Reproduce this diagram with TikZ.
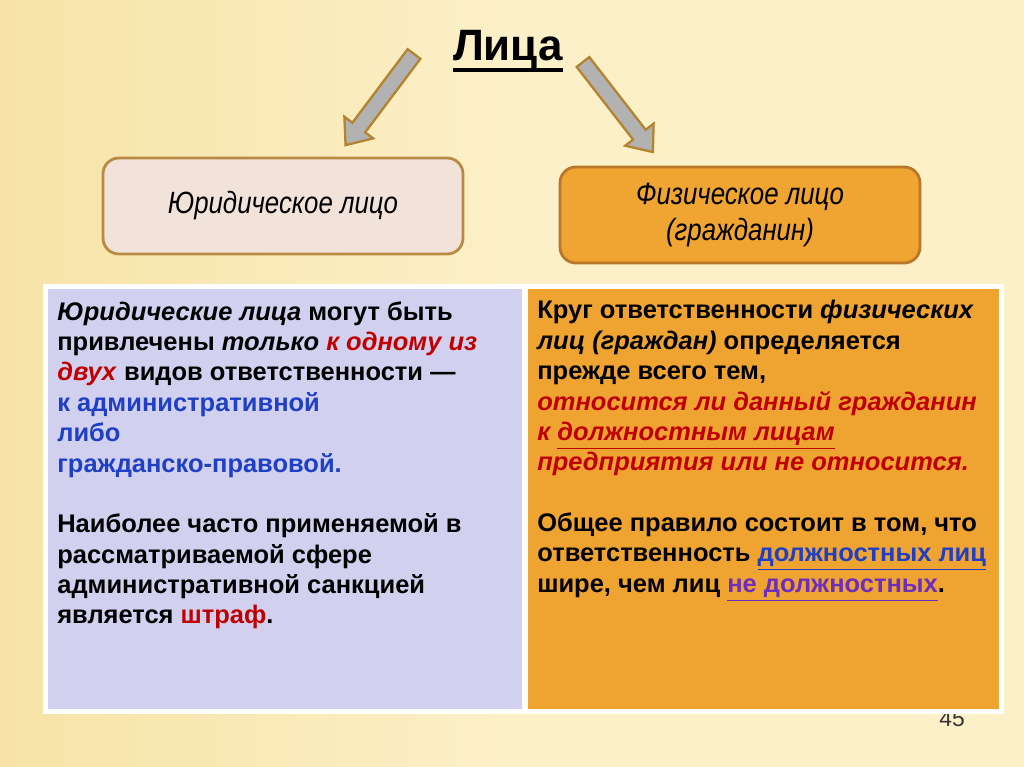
\documentclass[tikz,border=0pt]{standalone}
\usepackage{fontspec}
\setmainfont{Liberation Sans}
\newfontfamily\narrowfont[FakeStretch=0.84]{Liberation Sans}
\usepackage{xcolor}
\usepackage{tikz}
\usetikzlibrary{positioning,calc}

\definecolor{slidebg}{HTML}{FCF0C8}
\definecolor{slideedge}{HTML}{F7E3A6}
\definecolor{juredfill}{HTML}{F2E3DA}
\definecolor{juredline}{HTML}{B98A44}
\definecolor{fizfill}{HTML}{F0A431}
\definecolor{fizline}{HTML}{B9772A}
\definecolor{lavpanel}{HTML}{D1D0EE}
\definecolor{orpanel}{HTML}{EFA431}
\definecolor{arrfill}{HTML}{B2B2B2}
\definecolor{arrline}{HTML}{B5822F}
\definecolor{jred}{HTML}{C00000}
\definecolor{jblue}{HTML}{1F3FC4}
\definecolor{jpurp}{HTML}{6F2DBD}

\tikzset{
  kindbox/.style={rounded corners=9pt, line width=1.6pt, minimum width=7.2cm,
    minimum height=1.92cm, align=center, font=\narrowfont\itshape\fontsize{17.5}{21}\selectfont},
  panel/.style={draw=white, line width=1.7pt, minimum height=8.48cm, inner sep=0pt},
  paneltext/.style={anchor=north west, inner sep=0pt, align=left,
    font=\bfseries\fontsize{14.5}{17.3}\selectfont},
  blockarrow/.pic={
    \draw[fill=arrfill, draw=arrline, line width=1.3pt, line join=miter]
      (0,-8) -- (92,-8) -- (92,-18) -- (114,0) -- (92,18) -- (92,8) -- (0,8) -- cycle;
  }
}

\begin{document}
\begin{tikzpicture}[x=0.02cm, y=-0.02cm]
  % Background
  \shade[left color=slideedge, right color=slidebg, middle color=slidebg] (0,0) rectangle (1024,767);
  \useasboundingbox (0,0) rectangle (1024,767);

  % Title
  \node[font=\bfseries\fontsize{25}{30}\selectfont, inner sep=0pt] (title) at (508,50) {Лица};
  \draw[line width=2.2pt] ([yshift=-5.5pt]title.base west) -- ([yshift=-5.5pt]title.base east);

  % Arrows
  \coordinate (ltail) at (414,54);
  \coordinate (rtail) at (583,62);
  \pic[rotate=233.1] at (ltail) {blockarrow};
  \pic[rotate=-52.2] at (rtail) {blockarrow};

  % Kinds of persons
  \node[kindbox, draw=juredline, fill=juredfill] (jur) at (283,206) {Юридическое лицо};
  \node[kindbox, draw=fizline, fill=fizfill] (fiz) at (740,215) {Физическое лицо\\(гражданин)};

  % Page number
  \node[font=\fontsize{13}{15}\selectfont, text=black!80] (pagenum) at (952,719) {45};

  % Table
  \node[panel, fill=lavpanel, minimum width=9.56cm] (lpanel) at (285,499) {};
  \node[panel, fill=orpanel, minimum width=9.5cm] (rpanel) at (763.5,499) {};
  \draw[white, line width=1.7pt] (lpanel.north west) rectangle (rpanel.south east);

  \node[paneltext] (ltext) at (57,301) {%
    \textit{Юридические лица} могут быть\\
    привлечены \textit{только} \textcolor{jred}{\textit{к одному из}}\\
    \textcolor{jred}{\textit{двух}} видов ответственности —\\
    \textcolor{jblue}{к административной}\\
    \textcolor{jblue}{либо}\\
    \textcolor{jblue}{гражданско-правовой.}\\
    \mbox{}\\
    Наиболее часто применяемой в\\
    рассматриваемой сфере\\
    административной санкцией\\
    является \textcolor{jred}{штраф}.};

  \node[paneltext] (rtext) at (537,300) {%
    Круг ответственности \textit{физических}\\
    \textit{лиц (граждан)} определяется\\
    прежде всего тем,\\
    \textcolor{jred}{\textit{относится ли данный гражданин}}\\
    \textcolor{jred}{\textit{к \underline{должностным лицам}}}\\
    \textcolor{jred}{\textit{предприятия или не относится.}}\\
    \mbox{}\\
    Общее правило состоит в том, что\\
    ответственность \textcolor{jblue}{\underline{должностных лиц}}\\
    шире, чем лиц \textcolor{jpurp}{\underline{не должностных}}.};
\end{tikzpicture}
\end{document}
